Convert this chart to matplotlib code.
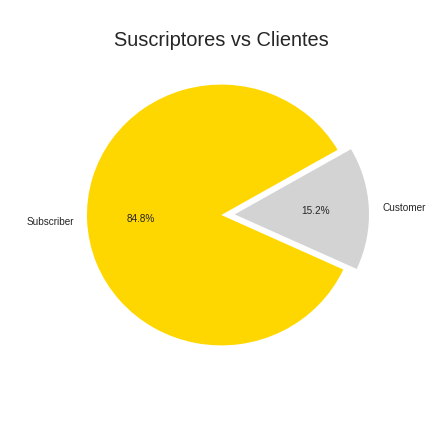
import matplotlib
matplotlib.use("Agg")
import matplotlib.pyplot as plt

# datos
labels = ['Subscriber', 'Customer']
shares = [84.8, 15.2]
colors = ['gold', 'lightgray']
explode = (0, 0.1)

plt.rcParams['font.family'] = ['Liberation Sans', 'DejaVu Sans']
plt.rcParams['text.color'] = '.15'

fig = plt.figure(figsize=(6, 6), dpi=72)
ax = fig.add_axes([53.4 / 432, 54 / 432, 335.75 / 432, 326 / 432])
ax.pie(shares, labels=labels, colors=colors, explode=explode,
       autopct='%1.1f%%', startangle=30, textprops={'fontsize': 10})
ax.set_aspect('auto')
ax.set_xlim(-1.25, 1.25)
ax.set_ylim(-1.25, 1.25)
ax.set_title('Suscriptores vs Clientes', fontsize=20)

fig.savefig('out.png', dpi=72)
